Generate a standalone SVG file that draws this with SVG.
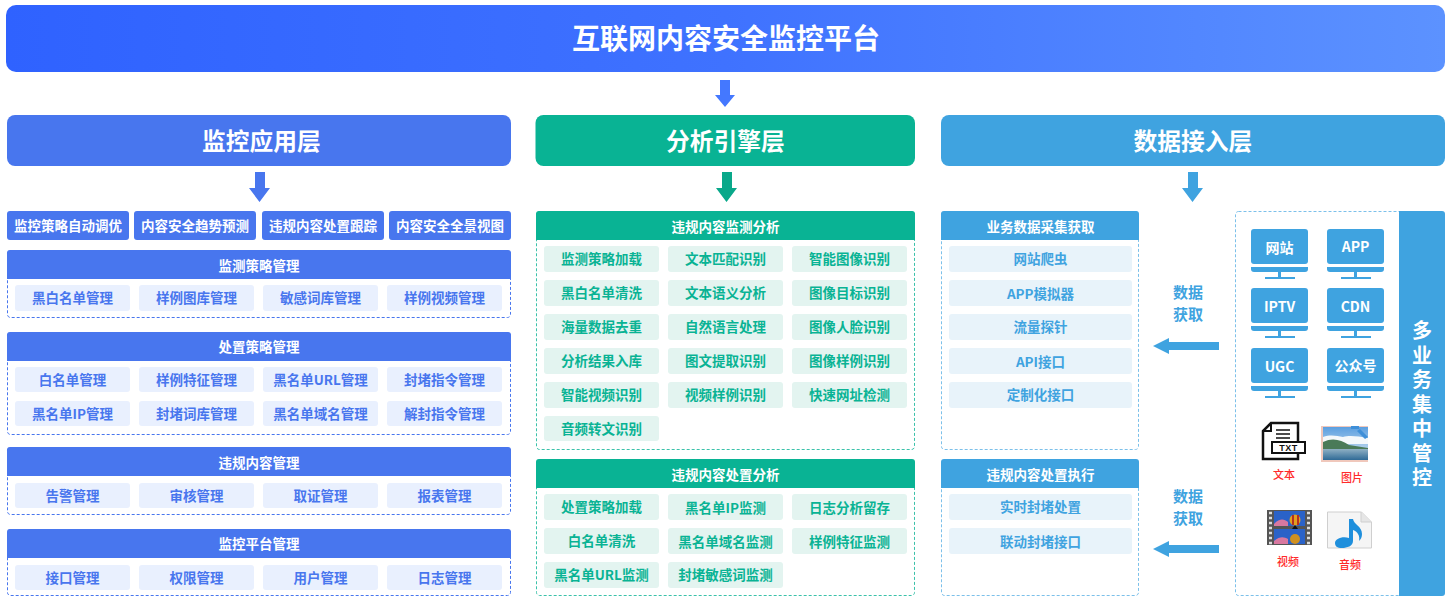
<svg xmlns="http://www.w3.org/2000/svg" width="1452" height="601" viewBox="0 0 1452 601">
<style>
text{font-family:"Noto Sans CJK SC","Noto Sans",sans-serif;text-anchor:middle}
.w{fill:#fff;font-weight:700;font-size:13.500px}
.h{fill:#fff;font-weight:700;font-size:23.750px}
.chip{font-weight:700;font-size:13.500px}
.B{fill:#4876ee}.G{fill:#09b394}.L{fill:#3fa3e0}
.bc{fill:#e9f0fe}.gc{fill:#e3f4f0}.lc{fill:#e8f3fa}
.bd{fill:#fff;stroke:#4876ee;stroke-width:1;stroke-dasharray:3 2}
.gd{fill:#fff;stroke:#3cc2aa;stroke-width:1;stroke-dasharray:3 2}
.ld{fill:#fff;stroke:#7cc0ea;stroke-width:1;stroke-dasharray:3 2}
.r{fill:#ff2a2a;font-size:11px;font-weight:500}
.al{fill:#3fa3e0;font-weight:700;font-size:15px}
.v{fill:#fff;font-weight:700;font-size:20px;letter-spacing:4.500px;writing-mode:vertical-rl}
.m{fill:#fff;font-weight:700;font-size:14px}
</style>
<defs>
<linearGradient id="tg" x1="0" x2="1" y1="0" y2="0"><stop offset="0" stop-color="#2f62ff"/><stop offset=".5" stop-color="#3f72ff"/><stop offset="1" stop-color="#5c92ff"/></linearGradient>
<linearGradient id="sky" x1="0" x2="0" y1="0" y2="1"><stop offset="0" stop-color="#5b9fe0"/><stop offset="1" stop-color="#dfeaf2"/></linearGradient>
<linearGradient id="sea" x1="0" x2="0" y1="0" y2="1"><stop offset="0" stop-color="#8fb0c4"/><stop offset="1" stop-color="#2f6a96"/></linearGradient>
<g id="mon"><rect x="0" y="0" width="57" height="35" rx="3" class="L"/><path d="M0 38h57v2a3 3 0 0 1-3 3H3a3 3 0 0 1-3-3z" class="L"/><rect x="27" y="43" width="3" height="5" class="L"/><rect x="14" y="48" width="30" height="2" class="L"/></g>
</defs>

<g id="title"><rect x="6" y="5" width="1439" height="67" rx="10" fill="url(#tg)"/><text x="726" y="49" fill="#fff" style="font-size:28px;font-weight:700">互联网内容安全监控平台</text></g>

<g id="connectors">
<polygon points="720,80 730,80 730,95 735,95 725,107 715,95 720,95" fill="#4478ff"/>
<polygon points="255,172 265,172 265,188 270,188 259.500,202 249,188 255,188" fill="#4876ee"/>
<polygon points="722,172 732,172 732,188 737,188 726.500,202 716,188 722,188" fill="#09a88a"/>
<polygon points="1188,172 1198,172 1198,188 1203,188 1192.500,202 1182,188 1188,188" fill="#3fa3e0"/>
<polygon points="1153,346 1169,338 1169,342 1219,342 1219,350 1169,350 1169,354" fill="#3fa3e0"/>
<polygon points="1153,549 1169,541 1169,545 1219,545 1219,553 1169,553 1169,557" fill="#3fa3e0"/>
</g>
<g id="label-get1"><text class="al" x="1188" y="298">数据</text><text class="al" x="1188" y="320">获取</text></g>
<g id="label-get2"><text class="al" x="1188" y="502">数据</text><text class="al" x="1188" y="524">获取</text></g>

<g id="layer-app"><rect x="7" y="115" width="504" height="51" rx="8" class="B"/><text class="h" x="261.500" y="149.500">监控应用层</text></g>
<g id="layer-engine"><rect x="535.500" y="115" width="379.500" height="51" rx="8" class="G"/><text class="h" x="725.500" y="149.500">分析引擎层</text></g>
<g id="layer-data"><rect x="941" y="115" width="504" height="51" rx="8" class="L"/><text class="h" x="1193" y="149.500">数据接入层</text></g>

<g id="top-1"><rect x="7" y="211" width="122" height="29" rx="3" class="B"/><text class="w" x="68" y="231">监控策略自动调优</text></g>
<g id="top-2"><rect x="134" y="211" width="122" height="29" rx="3" class="B"/><text class="w" x="195" y="231">内容安全趋势预测</text></g>
<g id="top-3"><rect x="262" y="211" width="122" height="29" rx="3" class="B"/><text class="w" x="323" y="231">违规内容处置跟踪</text></g>
<g id="top-4"><rect x="389" y="211" width="122" height="29" rx="3" class="B"/><text class="w" x="450" y="231">内容安全全景视图</text></g>

<g id="p-monitor"><rect x="7.500" y="250.500" width="503" height="67" rx="3" class="bd"/><path d="M7 279v-26a3 3 0 0 1 3-3h498a3 3 0 0 1 3 3v26z" class="B"/><text class="w" x="259" y="271">监测策略管理</text>
<g class="bc"><rect x="15" y="285" width="115" height="26" rx="3"/><rect x="139" y="285" width="115" height="26" rx="3"/><rect x="263" y="285" width="115" height="26" rx="3"/><rect x="387" y="285" width="115" height="26" rx="3"/></g>
<g class="chip B"><text x="72.500" y="303">黑白名单管理</text><text x="196.500" y="303">样例图库管理</text><text x="320.500" y="303">敏感词库管理</text><text x="444.500" y="303">样例视频管理</text></g></g>

<g id="p-dispose"><rect x="7.500" y="332.500" width="503" height="102" rx="3" class="bd"/><path d="M7 361v-26a3 3 0 0 1 3-3h498a3 3 0 0 1 3 3v26z" class="B"/><text class="w" x="259" y="352">处置策略管理</text>
<g class="bc"><rect x="15" y="367" width="115" height="25" rx="3"/><rect x="139" y="367" width="115" height="25" rx="3"/><rect x="263" y="367" width="115" height="25" rx="3"/><rect x="387" y="367" width="115" height="25" rx="3"/><rect x="15" y="401" width="115" height="25" rx="3"/><rect x="139" y="401" width="115" height="25" rx="3"/><rect x="263" y="401" width="115" height="25" rx="3"/><rect x="387" y="401" width="115" height="25" rx="3"/></g>
<g class="chip B"><text x="72.500" y="385">白名单管理</text><text x="196.500" y="385">样例特征管理</text><text x="320.500" y="385">黑名单URL管理</text><text x="444.500" y="385">封堵指令管理</text><text x="72.500" y="419">黑名单IP管理</text><text x="196.500" y="419">封堵词库管理</text><text x="320.500" y="419">黑名单域名管理</text><text x="444.500" y="419">解封指令管理</text></g></g>

<g id="p-violation"><rect x="7.500" y="447.500" width="503" height="67" rx="3" class="bd"/><path d="M7 476v-26a3 3 0 0 1 3-3h498a3 3 0 0 1 3 3v26z" class="B"/><text class="w" x="259" y="468">违规内容管理</text>
<g class="bc"><rect x="15" y="483" width="115" height="25" rx="3"/><rect x="139" y="483" width="115" height="25" rx="3"/><rect x="263" y="483" width="115" height="25" rx="3"/><rect x="387" y="483" width="115" height="25" rx="3"/></g>
<g class="chip B"><text x="72.500" y="501">告警管理</text><text x="196.500" y="501">审核管理</text><text x="320.500" y="501">取证管理</text><text x="444.500" y="501">报表管理</text></g></g>

<g id="p-platform"><rect x="7.500" y="529.500" width="503" height="66" rx="3" class="bd"/><path d="M7 558v-26a3 3 0 0 1 3-3h498a3 3 0 0 1 3 3v26z" class="B"/><text class="w" x="259" y="549">监控平台管理</text>
<g class="bc"><rect x="15" y="565" width="115" height="25" rx="3"/><rect x="139" y="565" width="115" height="25" rx="3"/><rect x="263" y="565" width="115" height="25" rx="3"/><rect x="387" y="565" width="115" height="25" rx="3"/></g>
<g class="chip B"><text x="72.500" y="583">接口管理</text><text x="196.500" y="583">权限管理</text><text x="320.500" y="583">用户管理</text><text x="444.500" y="583">日志管理</text></g></g>

<g id="p-analysis"><rect x="536.500" y="211.500" width="378" height="238" rx="3" class="gd"/><path d="M536 240v-26a3 3 0 0 1 3-3h373a3 3 0 0 1 3 3v26z" class="G"/><text class="w" x="725.500" y="232">违规内容监测分析</text>
<g class="gc"><rect x="544" y="246" width="115" height="26" rx="3"/><rect x="668" y="246" width="115" height="26" rx="3"/><rect x="792" y="246" width="115" height="26" rx="3"/><rect x="544" y="280" width="115" height="26" rx="3"/><rect x="668" y="280" width="115" height="26" rx="3"/><rect x="792" y="280" width="115" height="26" rx="3"/><rect x="544" y="314" width="115" height="26" rx="3"/><rect x="668" y="314" width="115" height="26" rx="3"/><rect x="792" y="314" width="115" height="26" rx="3"/><rect x="544" y="348" width="115" height="26" rx="3"/><rect x="668" y="348" width="115" height="26" rx="3"/><rect x="792" y="348" width="115" height="26" rx="3"/><rect x="544" y="382" width="115" height="26" rx="3"/><rect x="668" y="382" width="115" height="26" rx="3"/><rect x="792" y="382" width="115" height="26" rx="3"/><rect x="544" y="416" width="115" height="25" rx="3"/></g>
<g class="chip G"><text x="601.500" y="264">监测策略加载</text><text x="725.500" y="264">文本匹配识别</text><text x="849.500" y="264">智能图像识别</text><text x="601.500" y="298">黑白名单清洗</text><text x="725.500" y="298">文本语义分析</text><text x="849.500" y="298">图像目标识别</text><text x="601.500" y="332">海量数据去重</text><text x="725.500" y="332">自然语言处理</text><text x="849.500" y="332">图像人脸识别</text><text x="601.500" y="366">分析结果入库</text><text x="725.500" y="366">图文提取识别</text><text x="849.500" y="366">图像样例识别</text><text x="601.500" y="400">智能视频识别</text><text x="725.500" y="400">视频样例识别</text><text x="849.500" y="400">快速网址检测</text><text x="601.500" y="434">音频转文识别</text></g></g>

<g id="p-analysis2"><rect x="536.500" y="460.500" width="378" height="135" rx="3" class="gd"/><path d="M536 488v-26a3 3 0 0 1 3-3h373a3 3 0 0 1 3 3v26z" class="G"/><text class="w" x="725.500" y="480">违规内容处置分析</text>
<g class="gc"><rect x="544" y="494" width="115" height="26" rx="3"/><rect x="668" y="494" width="115" height="26" rx="3"/><rect x="792" y="494" width="115" height="26" rx="3"/><rect x="544" y="528" width="115" height="26" rx="3"/><rect x="668" y="528" width="115" height="26" rx="3"/><rect x="792" y="528" width="115" height="26" rx="3"/><rect x="544" y="562" width="115" height="26" rx="3"/><rect x="668" y="562" width="115" height="26" rx="3"/></g>
<g class="chip G"><text x="601.500" y="512">处置策略加载</text><text x="725.500" y="513">黑名单IP监测</text><text x="849.500" y="513">日志分析留存</text><text x="601.500" y="546">白名单清洗</text><text x="725.500" y="547">黑名单域名监测</text><text x="849.500" y="547">样例特征监测</text><text x="601.500" y="580">黑名单URL监测</text><text x="725.500" y="580">封堵敏感词监测</text></g></g>

<g id="p-collect"><rect x="941.500" y="211.500" width="197" height="238" rx="3" class="ld"/><path d="M941 240v-26a3 3 0 0 1 3-3h192a3 3 0 0 1 3 3v26z" class="L"/><text class="w" x="1040.500" y="232">业务数据采集获取</text>
<g class="lc"><rect x="949" y="246" width="183" height="26" rx="3"/><rect x="949" y="280" width="183" height="26" rx="3"/><rect x="949" y="314" width="183" height="26" rx="3"/><rect x="949" y="348" width="183" height="26" rx="3"/><rect x="949" y="382" width="183" height="26" rx="3"/></g>
<g class="chip L"><text x="1040.500" y="264">网站爬虫</text><text x="1040.500" y="299">APP模拟器</text><text x="1040.500" y="332">流量探针</text><text x="1040.500" y="367">API接口</text><text x="1040.500" y="400">定制化接口</text></g></g>

<g id="p-exec"><rect x="941.500" y="460.500" width="197" height="135" rx="3" class="ld"/><path d="M941 488v-26a3 3 0 0 1 3-3h192a3 3 0 0 1 3 3v26z" class="L"/><text class="w" x="1040.500" y="480">违规内容处置执行</text>
<g class="lc"><rect x="949" y="494" width="183" height="26" rx="3"/><rect x="949" y="528" width="183" height="26" rx="3"/></g>
<g class="chip L"><text x="1040.500" y="512">实时封堵处置</text><text x="1040.500" y="547">联动封堵接口</text></g></g>

<g id="p-sources"><rect x="1235.500" y="211.500" width="170" height="384" rx="3" class="ld"/><path d="M1399 211h43a3 3 0 0 1 3 3v379a3 3 0 0 1-3 3h-43z" class="L"/>
<text class="v" x="1422" y="406.500">多业务集中管控</text></g>

<g id="src-web"><use href="#mon" x="1251" y="229"/><text class="m" x="1279.500" y="253">网站</text></g>
<g id="src-app"><use href="#mon" x="1327" y="229"/><text class="m" x="1355.500" y="252">APP</text></g>
<g id="src-iptv"><use href="#mon" x="1251" y="288"/><text class="m" x="1279.500" y="312">IPTV</text></g>
<g id="src-cdn"><use href="#mon" x="1327" y="288"/><text class="m" x="1355.500" y="312">CDN</text></g>
<g id="src-ugc"><use href="#mon" x="1251" y="348"/><text class="m" x="1279.500" y="372">UGC</text></g>
<g id="src-gzh"><use href="#mon" x="1327" y="348"/><text class="m" x="1355.500" y="371">公众号</text></g>

<g id="icon-txt"><path d="M1271 423h27v36h-35v-28z" fill="#fff" stroke="#111" stroke-width="2.500"/><path d="M1271 423v8h-8" fill="none" stroke="#111" stroke-width="2"/><path d="M1276 430h14M1276 434h14M1276 438h14" stroke="#111" stroke-width="1.500"/><rect x="1272" y="442" width="33" height="11" fill="#fff" stroke="#111" stroke-width="2"/><text x="1288.500" y="451" fill="#111" style="font-size:9px;font-weight:700;font-family:'Liberation Sans',sans-serif;letter-spacing:.5px">TXT</text><text class="r" x="1284" y="479">文本</text></g>
<g id="icon-img"><rect x="1321" y="426" width="47" height="36" fill="#f0c8bc"/><rect x="1323" y="427" width="45" height="33" fill="url(#sky)"/><path d="M1323 437c8-3 14-1 20 0 6-2 14-1 25 1v6h-45z" fill="#f4f8fb"/><path d="M1323 442c10-5 18-2 26 3l19 3v4h-45z" fill="#4a7a58"/><rect x="1323" y="449" width="45" height="11" fill="url(#sea)"/><path d="M1351 426h8v3h-8zM1360 429l8 8-3 2-8-8z" fill="#3f8fd8"/><text class="r" x="1352" y="482">图片</text></g>
<g id="icon-video"><rect x="1267" y="510" width="45" height="35" fill="#555"/><rect x="1274" y="511" width="31" height="15" fill="#2a62c8"/><rect x="1274" y="529" width="31" height="15" fill="#2a62c8"/><path d="M1274 524c6-6 10-5 14-2v4h-14zM1274 541c6-5 10-4 14-2v5h-14z" fill="#d878a0"/><circle cx="1295" cy="520" r="5.500" fill="#e0a020"/><path d="M1292 515h2v10h-2zM1297 515h2v10h-2z" fill="#b83020"/><circle cx="1295" cy="539" r="5" fill="#d09020"/><path d="M1295 525l3 4h-6z" fill="#111"/><path d="M1269 513h3M1269 518h3M1269 523h3M1269 528h3M1269 533h3M1269 538h3M1269 543h3M1307 513h3M1307 518h3M1307 523h3M1307 528h3M1307 533h3M1307 538h3M1307 543h3" stroke="#ddd" stroke-width="2.500"/><text class="r" x="1288" y="566">视频</text></g>
<g id="icon-audio"><path d="M1327.500 512h34l10 10v26h-44z" fill="#f5f5f5" stroke="#cfcfcf"/><path d="M1361 512v10h10" fill="#e6e6e6" stroke="#cfcfcf"/><path d="M1349 519h4c1 6 9 7 9 15 0 3-1 5-3 7 1-5-1-9-6-11v11c0 5-6 7-11 7-5 0-7-2-7-5 0-4 7-7 14-5z" fill="#1f8fdc"/><text class="r" x="1350" y="569">音频</text></g>
</svg>
